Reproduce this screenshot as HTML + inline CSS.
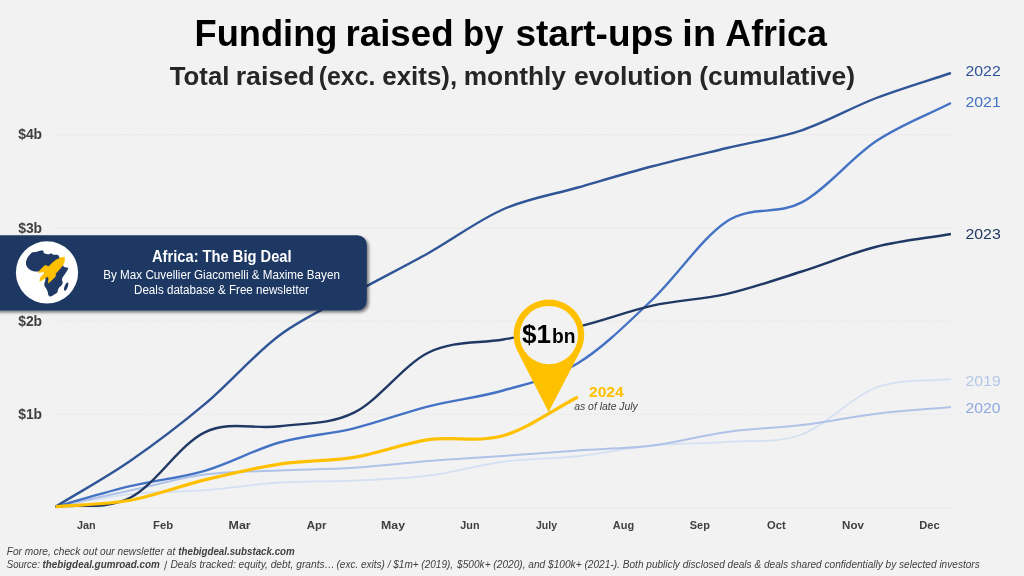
<!DOCTYPE html>
<html lang="en"><head><meta charset="utf-8"><title>Funding raised by start-ups in Africa</title>
<style>
html,body{margin:0;padding:0;background:#f2f2f2;}
body{width:1024px;height:576px;overflow:hidden;font-family:"Liberation Sans",sans-serif;}
svg{display:block;}
text{font-family:"Liberation Sans",sans-serif;}
.b{font-weight:bold;}
.i{font-style:italic;}
</style></head><body>
<svg width="1024" height="576" viewBox="0 0 1024 576">
<defs>
<filter id="sh" x="-10%" y="-20%" width="120%" height="150%"><feGaussianBlur in="SourceAlpha" stdDeviation="1.4"/><feOffset dx="1.6" dy="2.2"/><feComponentTransfer><feFuncA type="linear" slope="0.5"/></feComponentTransfer><feMerge><feMergeNode/><feMergeNode in="SourceGraphic"/></feMerge></filter>
<clipPath id="cc"><circle cx="47" cy="272.4" r="31.1"/></clipPath>
</defs>
<rect width="1024" height="576" fill="#f2f2f2"/>
<line x1="55" y1="134.6" x2="951.5" y2="134.6" stroke="#e7e7e7" stroke-width="1.1" stroke-dasharray="1.6,0.7"/>
<line x1="55" y1="227.9" x2="951.5" y2="227.9" stroke="#e7e7e7" stroke-width="1.1" stroke-dasharray="1.6,0.7"/>
<line x1="55" y1="321.3" x2="951.5" y2="321.3" stroke="#e7e7e7" stroke-width="1.1" stroke-dasharray="1.6,0.7"/>
<line x1="55" y1="414.3" x2="951.5" y2="414.3" stroke="#e7e7e7" stroke-width="1.1" stroke-dasharray="1.6,0.7"/>
<line x1="55" y1="507.6" x2="951.5" y2="507.6" stroke="#e7e7e7" stroke-width="1.1" stroke-dasharray="1.6,0.7"/>
<text x="194.50" y="45.75" font-size="36.2" textLength="142.95" lengthAdjust="spacingAndGlyphs" class="b" fill="#000" text-anchor="start">Funding</text>
<text x="345.46" y="45.75" font-size="36.2" textLength="108.20" lengthAdjust="spacingAndGlyphs" class="b" fill="#000" text-anchor="start">raised</text>
<text x="463.11" y="45.75" font-size="36.2" textLength="40.36" lengthAdjust="spacingAndGlyphs" class="b" fill="#000" text-anchor="start">by</text>
<text x="515.47" y="45.75" font-size="36.2" textLength="158.14" lengthAdjust="spacingAndGlyphs" class="b" fill="#000" text-anchor="start">start-ups</text>
<text x="682.39" y="45.75" font-size="36.2" textLength="33.63" lengthAdjust="spacingAndGlyphs" class="b" fill="#000" text-anchor="start">in</text>
<text x="725.26" y="45.75" font-size="36.2" textLength="101.57" lengthAdjust="spacingAndGlyphs" class="b" fill="#000" text-anchor="start">Africa</text>
<text x="169.75" y="85" font-size="26.1" textLength="59.63" lengthAdjust="spacingAndGlyphs" class="b" fill="#262626" text-anchor="start">Total</text>
<text x="235.70" y="85" font-size="26.1" textLength="78.98" lengthAdjust="spacingAndGlyphs" class="b" fill="#262626" text-anchor="start">raised</text>
<text x="318.81" y="85" font-size="26.1" textLength="56.59" lengthAdjust="spacingAndGlyphs" class="b" fill="#262626" text-anchor="start">(exc.</text>
<text x="382.26" y="85" font-size="26.1" textLength="74.90" lengthAdjust="spacingAndGlyphs" class="b" fill="#262626" text-anchor="start">exits),</text>
<text x="463.74" y="85" font-size="26.1" textLength="102.25" lengthAdjust="spacingAndGlyphs" class="b" fill="#262626" text-anchor="start">monthly</text>
<text x="573.98" y="85" font-size="26.1" textLength="118.54" lengthAdjust="spacingAndGlyphs" class="b" fill="#262626" text-anchor="start">evolution</text>
<text x="699.23" y="85" font-size="26.1" textLength="155.74" lengthAdjust="spacingAndGlyphs" class="b" fill="#262626" text-anchor="start">(cumulative)</text>
<text x="18.16" y="139.4" font-size="14.2" textLength="23.93" lengthAdjust="spacingAndGlyphs" class="b" fill="#404040" text-anchor="start">$4b</text>
<text x="18.16" y="232.65" font-size="14.2" textLength="23.93" lengthAdjust="spacingAndGlyphs" class="b" fill="#404040" text-anchor="start">$3b</text>
<text x="18.16" y="326.15" font-size="14.2" textLength="23.93" lengthAdjust="spacingAndGlyphs" class="b" fill="#404040" text-anchor="start">$2b</text>
<text x="18.16" y="418.9" font-size="14.2" textLength="23.93" lengthAdjust="spacingAndGlyphs" class="b" fill="#404040" text-anchor="start">$1b</text>
<text x="76.97" y="529.4" font-size="11.6" textLength="18.72" lengthAdjust="spacingAndGlyphs" class="b" fill="#404040" text-anchor="start">Jan</text>
<text x="153.02" y="529.4" font-size="11.6" textLength="20.09" lengthAdjust="spacingAndGlyphs" class="b" fill="#404040" text-anchor="start">Feb</text>
<text x="228.59" y="529.4" font-size="11.6" textLength="22.14" lengthAdjust="spacingAndGlyphs" class="b" fill="#404040" text-anchor="start">Mar</text>
<text x="306.65" y="529.4" font-size="11.6" textLength="19.82" lengthAdjust="spacingAndGlyphs" class="b" fill="#404040" text-anchor="start">Apr</text>
<text x="381.10" y="529.4" font-size="11.6" textLength="23.96" lengthAdjust="spacingAndGlyphs" class="b" fill="#404040" text-anchor="start">May</text>
<text x="460.37" y="529.4" font-size="11.6" textLength="19.20" lengthAdjust="spacingAndGlyphs" class="b" fill="#404040" text-anchor="start">Jun</text>
<text x="536.02" y="529.4" font-size="11.6" textLength="21.06" lengthAdjust="spacingAndGlyphs" class="b" fill="#404040" text-anchor="start">July</text>
<text x="612.86" y="529.4" font-size="11.6" textLength="21.29" lengthAdjust="spacingAndGlyphs" class="b" fill="#404040" text-anchor="start">Aug</text>
<text x="689.83" y="529.4" font-size="11.6" textLength="20.06" lengthAdjust="spacingAndGlyphs" class="b" fill="#404040" text-anchor="start">Sep</text>
<text x="767.02" y="529.4" font-size="11.6" textLength="18.66" lengthAdjust="spacingAndGlyphs" class="b" fill="#404040" text-anchor="start">Oct</text>
<text x="842.05" y="529.4" font-size="11.6" textLength="21.85" lengthAdjust="spacingAndGlyphs" class="b" fill="#404040" text-anchor="start">Nov</text>
<text x="919.28" y="529.4" font-size="11.6" textLength="20.39" lengthAdjust="spacingAndGlyphs" class="b" fill="#404040" text-anchor="start">Dec</text>
<path d="M55.50,506.75 C80.37,502.57 105.25,496.96 130.12,494.20 C154.99,491.44 179.87,492.15 204.74,490.20 C229.61,488.25 254.49,484.10 279.36,482.50 C304.23,480.90 329.11,481.77 353.98,480.60 C378.85,479.43 403.73,478.64 428.60,475.50 C453.47,472.36 478.35,464.96 503.22,461.75 C528.09,458.54 552.97,458.94 577.84,456.25 C602.71,453.56 627.59,447.99 652.46,445.60 C677.33,443.21 702.21,443.75 727.08,441.90 C751.95,440.05 776.83,443.57 801.70,434.50 C826.57,425.43 851.45,396.75 876.32,387.50 C901.19,378.25 926.07,381.83 950.94,379.00" fill="none" stroke="#D6E0F3" stroke-width="1.8" stroke-linecap="butt" stroke-linejoin="round"/>
<path d="M55.50,506.75 C80.37,501.33 105.25,495.86 130.12,490.50 C154.99,485.14 179.87,477.92 204.74,474.60 C229.61,471.28 254.49,471.75 279.36,470.60 C304.23,469.45 329.11,469.28 353.98,467.70 C378.85,466.12 403.73,463.07 428.60,461.10 C453.47,459.13 478.35,457.67 503.22,455.90 C528.09,454.13 552.97,452.22 577.84,450.50 C602.71,448.78 627.59,448.70 652.46,445.60 C677.33,442.50 702.21,435.33 727.08,431.90 C751.95,428.47 776.83,428.02 801.70,425.00 C826.57,421.98 851.45,416.75 876.32,413.75 C901.19,410.75 926.07,409.25 950.94,407.00" fill="none" stroke="#AFC3E8" stroke-width="2.0" stroke-linecap="butt" stroke-linejoin="round"/>
<path d="M55.50,506.75 C80.37,499.90 105.25,492.19 130.12,486.20 C154.99,480.21 179.87,478.08 204.74,470.80 C229.61,463.52 254.49,449.58 279.36,442.50 C304.23,435.42 329.11,434.33 353.98,428.30 C378.85,422.27 403.73,412.60 428.60,406.30 C453.47,400.00 478.35,397.68 503.22,390.50 C528.09,383.32 552.97,378.42 577.84,363.25 C602.71,348.08 627.59,323.17 652.46,299.50 C677.33,275.83 702.21,237.43 727.08,221.25 C751.95,205.07 776.83,215.78 801.70,202.40 C826.57,189.03 851.45,157.57 876.32,141.00 C901.19,124.43 926.07,115.67 950.94,103.00" fill="none" stroke="#4472C4" stroke-width="2.4" stroke-linecap="butt" stroke-linejoin="round"/>
<path d="M55.50,506.75 C80.37,491.50 105.25,478.09 130.12,461.00 C154.99,443.91 179.87,425.12 204.74,404.20 C229.61,383.28 254.49,354.03 279.36,335.50 C304.23,316.97 329.11,306.75 353.98,293.00 C378.85,279.25 403.73,266.96 428.60,253.00 C453.47,239.04 478.35,220.17 503.22,209.25 C528.09,198.33 552.97,194.67 577.84,187.50 C602.71,180.33 627.59,172.83 652.46,166.25 C677.33,159.67 702.21,153.99 727.08,148.00 C751.95,142.01 776.83,138.63 801.70,130.30 C826.57,121.97 851.45,107.55 876.32,98.00 C901.19,88.45 926.07,81.33 950.94,73.00" fill="none" stroke="#2F5597" stroke-width="2.4" stroke-linecap="butt" stroke-linejoin="round"/>
<path d="M55.50,506.75 C80.37,503.77 105.25,510.21 130.12,497.80 C154.99,485.39 179.87,444.22 204.74,432.30 C229.61,420.38 254.49,429.57 279.36,426.30 C304.23,423.03 329.11,425.00 353.98,412.70 C378.85,400.40 403.73,364.70 428.60,352.50 C453.47,340.30 478.35,343.80 503.22,339.50 C528.09,335.20 552.97,332.35 577.84,326.70 C602.71,321.05 627.59,311.07 652.46,305.60 C677.33,300.13 702.21,299.58 727.08,293.90 C751.95,288.22 776.83,279.36 801.70,271.50 C826.57,263.64 851.45,253.00 876.32,246.75 C901.19,240.50 926.07,238.25 950.94,234.00" fill="none" stroke="#1F3864" stroke-width="2.4" stroke-linecap="butt" stroke-linejoin="round"/>
<path d="M55.50,506.75 C80.37,504.60 105.25,504.78 130.12,500.30 C154.99,495.82 179.87,485.93 204.74,479.90 C229.61,473.87 254.49,467.85 279.36,464.10 C304.23,460.35 329.11,461.47 353.98,457.40 C378.85,453.33 403.73,443.32 428.60,439.70 C453.47,436.08 478.35,442.82 503.22,435.70 C528.09,428.58 552.97,409.90 577.84,397.00" fill="none" stroke="#FFC000" stroke-width="3.2" stroke-linecap="butt" stroke-linejoin="round"/>
<text x="965.48" y="76.25" font-size="15.4" textLength="35.30" lengthAdjust="spacingAndGlyphs" fill="#2F5597" text-anchor="start">2022</text>
<text x="965.48" y="106.75" font-size="15.4" textLength="35.30" lengthAdjust="spacingAndGlyphs" fill="#4472C4" text-anchor="start">2021</text>
<text x="965.48" y="239.25" font-size="15.4" textLength="35.30" lengthAdjust="spacingAndGlyphs" fill="#1F3864" text-anchor="start">2023</text>
<text x="965.48" y="386.25" font-size="15.4" textLength="35.30" lengthAdjust="spacingAndGlyphs" fill="#B4C7E7" text-anchor="start">2019</text>
<text x="965.48" y="413" font-size="15.4" textLength="35.03" lengthAdjust="spacingAndGlyphs" fill="#8FAADC" text-anchor="start">2020</text>
<text x="588.99" y="397" font-size="15.4" textLength="34.76" lengthAdjust="spacingAndGlyphs" class="b" fill="#FFC000" text-anchor="start">2024</text>
<text x="574.26" y="410" font-size="10.8" textLength="63.52" lengthAdjust="spacingAndGlyphs" class="i" fill="#404040" text-anchor="start">as of late July</text>
<g filter="url(#sh)"><path d="M-20,235.2 H357.3 a9.5,9.5 0 0 1 9.5,9.5 V301 a9.5,9.5 0 0 1 -9.5,9.5 H-20 Z" fill="#1F3864"/></g>
<circle cx="47" cy="272.4" r="31.1" fill="#fff"/>
<path d="M30.21,254.26 C30.84,253.63 31.75,252.66 32.64,252.32 C33.52,251.98 35.94,251.87 37.01,251.64 C38.09,251.41 40.08,250.67 40.90,250.57 C41.72,250.47 42.95,250.55 43.33,250.86 C43.71,251.18 43.44,252.60 43.82,253.00 C44.20,253.40 45.55,253.81 46.25,253.97 C46.94,254.14 48.53,254.35 49.17,254.26 C49.80,254.18 50.54,253.23 51.11,253.29 C51.68,253.35 52.72,254.56 53.54,254.75 C54.36,254.94 56.73,254.56 57.43,254.75 C58.12,254.94 58.57,255.70 58.89,256.21 C59.20,256.71 59.48,257.69 59.86,258.64 C60.24,259.59 61.36,262.55 61.80,263.50 C62.25,264.45 62.76,265.40 63.26,265.93 C63.77,266.46 65.04,267.33 65.69,267.58 C66.35,267.84 68.07,267.58 68.32,267.87 C68.57,268.17 68.04,269.06 67.64,269.82 C67.23,270.58 65.84,272.76 65.21,273.71 C64.58,274.66 63.19,276.29 62.78,277.11 C62.36,277.93 62.00,279.33 62.00,280.03 C62.00,280.72 62.80,281.83 62.78,282.46 C62.75,283.09 62.25,284.26 61.80,284.89 C61.36,285.52 59.88,286.69 59.37,287.32 C58.87,287.95 58.17,289.12 57.92,289.75 C57.66,290.38 57.81,291.61 57.43,292.18 C57.05,292.75 55.69,293.62 55.00,294.12 C54.30,294.63 52.78,295.75 52.08,296.07 C51.39,296.38 50.16,296.74 49.65,296.55 C49.15,296.36 48.45,295.24 48.19,294.61 C47.94,293.98 48.02,292.58 47.71,291.69 C47.39,290.81 46.21,288.69 45.76,287.80 C45.32,286.92 44.43,285.65 44.30,284.89 C44.18,284.13 44.64,282.67 44.79,281.97 C44.94,281.28 45.47,280.43 45.47,279.54 C45.47,278.66 45.01,276.18 44.79,275.17 C44.58,274.15 44.64,272.24 43.82,271.76 C43.00,271.28 39.67,271.51 38.47,271.47 C37.27,271.43 35.59,271.62 34.58,271.47 C33.57,271.32 31.58,270.77 30.69,270.30 C29.81,269.84 28.38,268.63 27.78,267.87 C27.17,267.12 26.22,265.42 26.03,264.47 C25.84,263.52 26.09,261.53 26.32,260.58 C26.55,259.64 27.27,258.00 27.78,257.18 C28.28,256.36 29.58,254.90 30.21,254.26Z" fill="#1F3864"/>
<ellipse cx="66.18" cy="286.6" rx="1.6" ry="4.4" transform="rotate(19 66.18 286.6)" fill="#1F3864"/>
<path d="M64.53,257.03 L60.56,257.64 L55.97,259.93 L52.15,262.99 L48.72,266.42 L44.90,265.28 L41.46,268.72 L38.02,272.54 L43.75,271.93 L45.13,273.15 L42.61,274.83 L40.31,277.88 L39.78,281.32 L43.37,279.41 L47.19,276.74 L48.72,277.50 L48.33,283.23 L52.15,279.79 L55.59,276.36 L55.59,273.68 L59.79,269.10 L62.85,265.28 L64.38,261.46 Z" fill="#FFC000" stroke="#FFC000" stroke-width="0.5" stroke-linejoin="round"/>
<text x="152.03" y="262.25" font-size="15.6" textLength="139.57" lengthAdjust="spacingAndGlyphs" class="b" fill="#fff" text-anchor="start">Africa: The Big Deal</text>
<text x="103.28" y="279.25" font-size="12" textLength="236.63" lengthAdjust="spacingAndGlyphs" fill="#fff" text-anchor="start">By Max Cuvellier Giacomelli &amp; Maxime Bayen</text>
<text x="134.03" y="294" font-size="12" textLength="174.98" lengthAdjust="spacingAndGlyphs" fill="#fff" text-anchor="start">Deals database &amp; Free newsletter</text>
<path d="M548.6,412 L517.45,350.94 A35.3,35.3 0 1 1 580.22,351.18 Z" fill="#FFC000"/>
<circle cx="548.9" cy="335.10" r="29.2" fill="#f2f2f2"/>
<text x="522.11" y="343.0" font-size="26.6" textLength="29.02" lengthAdjust="spacingAndGlyphs" class="b" fill="#000" text-anchor="start">$1</text>
<text x="552.12" y="343.0" font-size="20.4" textLength="23.48" lengthAdjust="spacingAndGlyphs" class="b" fill="#000" text-anchor="start">bn</text>
<text x="6.75" y="554.5" font-size="10.2" textLength="168.48" lengthAdjust="spacingAndGlyphs" class="i" fill="#404040" text-anchor="start">For more, check out our newsletter at</text>
<text x="178.27" y="554.5" font-size="10.2" textLength="116.43" lengthAdjust="spacingAndGlyphs" class="b i" fill="#404040" text-anchor="start">thebigdeal.substack.com</text>
<text x="6.76" y="567.75" font-size="10.2" textLength="33.07" lengthAdjust="spacingAndGlyphs" class="i" fill="#404040" text-anchor="start">Source:</text>
<text x="42.52" y="567.75" font-size="10.2" textLength="117.36" lengthAdjust="spacingAndGlyphs" class="b i" fill="#404040" text-anchor="start">thebigdeal.gumroad.com</text>
<text x="163.60" y="567.75" font-size="10.2" class="i" fill="#404040" text-anchor="start" transform="translate(163.6,567.75) skewX(-14) translate(-163.6,-567.75)">|</text>
<text x="170.50" y="567.75" font-size="10.2" textLength="164.28" lengthAdjust="spacingAndGlyphs" class="i" fill="#404040" text-anchor="start">Deals tracked: equity, debt, grants…</text>
<text x="336.51" y="567.75" font-size="10.2" textLength="116.60" lengthAdjust="spacingAndGlyphs" class="i" fill="#404040" text-anchor="start">(exc. exits) / $1m+ (2019),</text>
<text x="457.00" y="567.75" font-size="10.2" textLength="162.93" lengthAdjust="spacingAndGlyphs" class="i" fill="#404040" text-anchor="start">$500k+ (2020), and $100k+ (2021-).</text>
<text x="622.75" y="567.75" font-size="10.2" textLength="356.98" lengthAdjust="spacingAndGlyphs" class="i" fill="#404040" text-anchor="start">Both publicly disclosed deals &amp; deals shared confidentially by selected investors</text>
</svg></body></html>
